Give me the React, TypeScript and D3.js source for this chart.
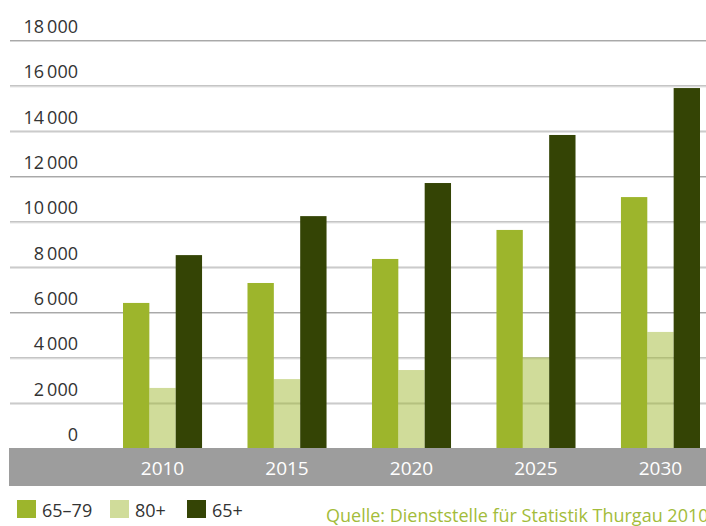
import * as d3 from "d3";
import { useEffect, useRef } from "react";

const years = ["2010", "2015", "2020", "2025", "2030"];
const series = ["65–79", "80+", "65+"];
const age6579 = [6400, 7280, 8340, 9620, 11070];
const age80 = [2650, 3040, 3440, 4000, 5120];
const age65 = [8510, 10230, 11690, 13810, 15880];
const yTicks = [0, 2000, 4000, 6000, 8000, 10000, 12000, 14000, 16000, 18000];
const source = "Quelle: Dienststelle für Statistik Thurgau 2010";

const colors = ["#9db52c", "#9db52c", "#344405"];
const opac = [1, 0.48, 1];

export default function App() {
    const ref = useRef<SVGSVGElement>(null);

    useEffect(() => {
        const svg = d3.select(ref.current);
        svg.selectAll("*").remove();

        const width = 706,
            height = 526;
        const font = "'Open Sans', sans-serif";

        const y = d3.scaleLinear().domain([0, 18000]).range([448, 40]);
        const x = d3.scaleBand().domain(years).range([123, 700]).paddingInner(0.365).paddingOuter(0);
        const xs = d3.scaleBand().domain(series).range([0, x.bandwidth()]);

        const fmt = d3.formatLocale({ decimal: ",", thousands: "\u2009", grouping: [3], currency: ["", ""] }).format(",d");

        // Gridlines
        const grid = svg.append("g");
        grid.selectAll("line.a")
            .data(yTicks)
            .join("line")
            .attr("class", "a")
            .attr("x1", 10)
            .attr("x2", width)
            .attr("y1", (d) => y(d) + 0.5)
            .attr("y2", (d) => y(d) + 0.5)
            .attr("stroke", "#a9a9a9");
        grid.selectAll("line.b")
            .data(yTicks)
            .join("line")
            .attr("class", "b")
            .attr("x1", 10)
            .attr("x2", width)
            .attr("y1", (d) => y(d) + 1.5)
            .attr("y2", (d) => y(d) + 1.5)
            .attr("stroke", "#d6d6d6");

        // Y labels
        svg.append("g")
            .selectAll("text")
            .data(yTicks)
            .join("text")
            .attr("x", 78)
            .attr("y", (d) => y(d) - 7)
            .attr("text-anchor", "end")
            .attr("font-family", font)
            .attr("font-size", 18)
            .attr("fill", "#333")
            .text((d) => fmt(d));

        // Bars
        const values = [age6579, age80, age65];
        const rows = years.flatMap((yr, i) => series.map((s, j) => ({ yr, s, j, v: values[j][i] })));
        svg.append("g")
            .selectAll("rect")
            .data(rows)
            .join("rect")
            .attr("x", (d) => x(d.yr)! + xs(d.s)!)
            .attr("width", xs.bandwidth())
            .attr("y", (d) => y(d.v))
            .attr("height", (d) => y(0) - y(d.v))
            .attr("fill", (d) => colors[d.j])
            .attr("fill-opacity", (d) => opac[d.j]);

        // Gray axis band
        svg.append("rect")
            .attr("x", 9)
            .attr("y", 448)
            .attr("width", width - 9)
            .attr("height", 38)
            .attr("fill", "#9d9d9d");

        svg.append("g")
            .selectAll("text")
            .data(years)
            .join("text")
            .attr("x", (d) => x(d)! + x.bandwidth() / 2)
            .attr("y", 475)
            .attr("text-anchor", "middle")
            .attr("font-family", font)
            .attr("font-size", 19)
            .attr("fill", "#fff")
            .text((d) => d);

        // Legend
        const legX = [17, 110, 187];
        const leg = svg.append("g")
            .selectAll("g")
            .data(series)
            .join("g")
            .attr("transform", (d, i) => `translate(${legX[i]}, 500)`);
        leg.append("rect")
            .attr("width", 19)
            .attr("height", 18)
            .attr("fill", (d, i) => colors[i])
            .attr("fill-opacity", (d, i) => opac[i]);
        leg.append("text")
            .attr("x", 25)
            .attr("y", 17)
            .attr("font-family", font)
            .attr("font-size", 18)
            .attr("fill", "#333")
            .text((d) => d);

        svg.append("text")
            .attr("x", 326)
            .attr("y", 522)
            .attr("font-family", font)
            .attr("font-size", 18)
            .attr("fill", "#a3bc3a")
            .text(source);
    }, []);

    return (
        <svg
            ref={ref}
            width={706}
            height={526}
            style={{ position: "absolute", left: 0, top: 0, background: "#fff" }}
        ></svg>
    );
}
